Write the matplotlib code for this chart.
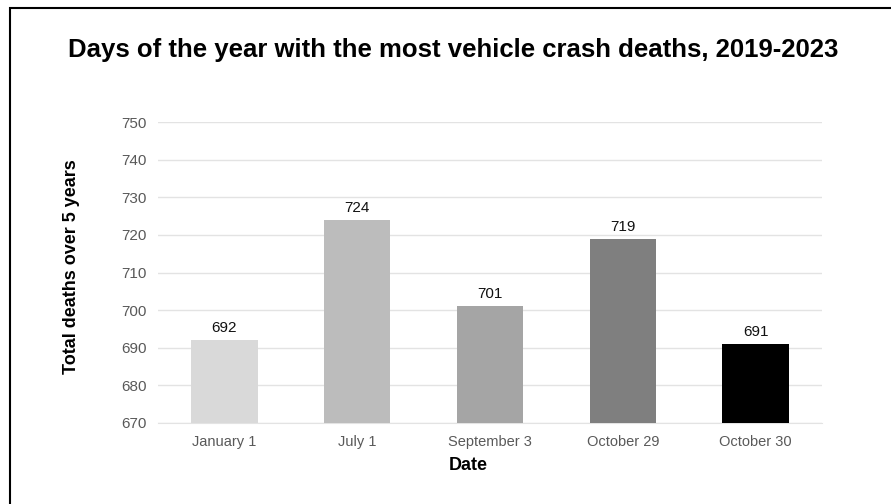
import matplotlib
matplotlib.use("Agg")
import matplotlib.pyplot as plt
from matplotlib.patches import Rectangle

# data
dates = ["January 1", "July 1", "September 3", "October 29", "October 30"]
deaths = [692, 724, 701, 719, 691]
bar_colors = ["#d9d9d9", "#bcbcbc", "#a5a5a5", "#7f7f7f", "#000000"]
y_ticks = [670, 680, 690, 700, 710, 720, 730, 740, 750]

plt.rcParams['font.family'] = ['Liberation Sans', 'DejaVu Sans']

fig = plt.figure(figsize=(8.91, 5.04), dpi=100)
ax = fig.add_axes([158 / 891, 1 - 423 / 504, 664 / 891, 301 / 504])

x = range(len(dates))
ax.bar(x, [d - y_ticks[0] for d in deaths], bottom=y_ticks[0], width=0.5,
       color=bar_colors, zorder=3)
for xi, d in zip(x, deaths):
    ax.text(xi, d + 1.3, str(d), ha="center", va="bottom", fontsize=11, color="#111111")

ax.set_xlim(-0.5, len(dates) - 0.5)
ax.set_ylim(y_ticks[0], y_ticks[-1])
ax.set_yticks(y_ticks)
ax.set_xticks(list(x))
ax.set_xticklabels(dates)
ax.grid(axis="y", color="#e3e3e3", linewidth=1, zorder=0)
for s in ["top", "right", "left"]:
    ax.spines[s].set_visible(False)
ax.spines["bottom"].set_color("#e3e3e3")
ax.tick_params(axis="both", length=0, colors="#595959")
ax.tick_params(axis="x", pad=8.5, labelsize=10.5)
ax.tick_params(axis="y", pad=8, labelsize=11)

ax.set_xlabel("Date", fontsize=13, fontweight="bold", va="center")
ax.xaxis.set_label_coords(0.467, -0.14)
ax.set_ylabel("Total deaths over 5 years", fontsize=13, fontweight="bold", va="center")
ax.yaxis.set_label_coords(-0.131, 0.52)

fig.text(0.509, 1 - 50 / 504, "Days of the year with the most vehicle crash deaths, 2019-2023",
         ha="center", va="center", fontsize=18.5, fontweight="bold")

# outer border
fig.patches.append(Rectangle((10 / 891, -0.02), 1.02, 1 - 8 / 504 + 0.02,
                             transform=fig.transFigure, fill=False,
                             edgecolor="black", linewidth=1.5))

fig.savefig("out.png", dpi=100)
